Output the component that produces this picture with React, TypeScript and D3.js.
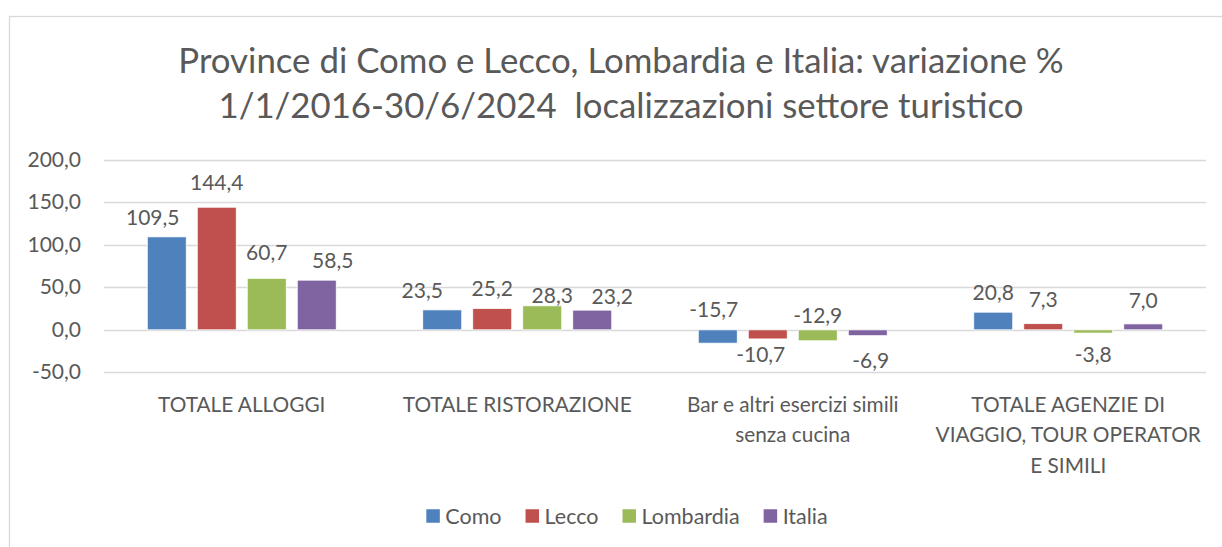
import React, { useEffect, useRef } from "react";
import * as d3 from "d3";

const categories: string[][] = [
  ["TOTALE ALLOGGI"],
  ["TOTALE RISTORAZIONE"],
  ["Bar e altri esercizi simili", "senza cucina"],
  ["TOTALE AGENZIE DI", "VIAGGIO, TOUR OPERATOR", "E SIMILI"],
];
const seriesNames = ["Como", "Lecco", "Lombardia", "Italia"];
const como = [109.5, 23.5, -15.7, 20.8];
const lecco = [144.4, 25.2, -10.7, 7.3];
const lombardia = [60.7, 28.3, -12.9, -3.8];
const italia = [58.5, 23.2, -6.9, 7.0];
const yTicks = [-50, 0, 50, 100, 150, 200];
const titleLines = [
  "Province di Como e Lecco, Lombardia e Italia: variazione %",
  "1/1/2016-30/6/2024\u00a0 localizzazioni settore turistico",
];

const colors = ["#4F81BD", "#C0504D", "#9BBB59", "#8064A2"];
// label nudges [dx, dy] per category (row) and series (column) – layout only
const labelNudge: [number, number][][] = [
  [[-14, 0], [0, -5], [0, -6], [16, 0]],
  [[-20, 0], [0, 0], [10, 9], [20, 6]],
  [[-4, -48], [-7, 1], [0, -40], [3, 10]],
  [[0, 0], [0, -5], [0, 7], [0, -4]],
];

const W = 1222;
const H = 547;
const FONT = "Lato, 'Open Sans', sans-serif";
const TXT = "#595959";
const GRID = "#D9D9D9";
const fmt = (v: number) => d3.format(".1f")(v).replace(".", ",").replace("\u2212", "-");

export default function App() {
  const ref = useRef<SVGSVGElement>(null);
  useEffect(() => {
    const svg = d3.select(ref.current);
    svg.selectAll("*").remove();
    const values = [como, lecco, lombardia, italia];
    const rows = categories.map((c, i) => ({
      key: String(i),
      label: c,
      vals: values.map((s) => s[i]),
    }));

    const margin = { left: 104, right: 16, top: 160, bottom: 175 };
    const x0 = d3
      .scaleBand<string>()
      .domain(rows.map((r) => r.key))
      .range([margin.left, W - margin.right])
      .padding(0);
    const x1 = d3
      .scaleBand<string>()
      .domain(seriesNames)
      .range([0, x0.bandwidth()])
      .paddingInner(0.22)
      .paddingOuter(0.865);
    const y = d3.scaleLinear().domain([-50, 200]).range([372.3, 160]);

    // border
    svg
      .append("rect")
      .attr("x", 9.5)
      .attr("y", 16.5)
      .attr("width", W + 20)
      .attr("height", H + 20)
      .attr("fill", "#fff")
      .attr("stroke", GRID)
      .attr("stroke-width", 1.3);

    // title
    const t = svg
      .append("text")
      .attr("text-anchor", "middle")
      .attr("font-family", FONT)
      .attr("font-size", 34.8)
      .attr("fill", TXT);
    titleLines.forEach((l, i) => {
      t.append("tspan")
        .attr("x", 621)
        .attr("y", 72.5 + i * 45.5)
        .text(l);
    });

    // grid
    svg
      .append("g")
      .selectAll("line")
      .data(yTicks)
      .join("line")
      .attr("x1", margin.left)
      .attr("x2", W - margin.right)
      .attr("y1", (d) => Math.round(y(d)) + 0.5)
      .attr("y2", (d) => Math.round(y(d)) + 0.5)
      .attr("stroke", GRID)
      .attr("stroke-width", 1.3);

    // y tick labels
    svg
      .append("g")
      .selectAll("text")
      .data(yTicks)
      .join("text")
      .attr("x", 81)
      .attr("y", (d) => y(d) + 7)
      .attr("text-anchor", "end")
      .attr("font-family", FONT)
      .attr("font-size", 21)
      .attr("fill", TXT)
      .text((d) => fmt(d));

    // bars
    const g = svg
      .append("g")
      .selectAll("g")
      .data(rows)
      .join("g")
      .attr("transform", (r) => `translate(${x0(r.key)},0)`);
    g.selectAll("rect")
      .data((r) => r.vals.map((v, i) => ({ v, i })))
      .join("rect")
      .attr("x", (d) => x1(seriesNames[d.i])!)
      .attr("width", x1.bandwidth())
      .attr("y", (d) => y(Math.max(0, d.v)))
      .attr("height", (d) => Math.abs(y(d.v) - y(0)))
      .attr("fill", (d) => colors[d.i])
      .attr("stroke", "#ffffff")
      .attr("stroke-width", 0.8);

    // data labels
    g.selectAll("text.lbl")
      .data((r, ri) => r.vals.map((v, i) => ({ v, i, ri })))
      .join("text")
      .attr("class", "lbl")
      .attr("text-anchor", "middle")
      .attr("font-family", FONT)
      .attr("font-size", 21)
      .attr("fill", TXT)
      .attr(
        "x",
        (d) => x1(seriesNames[d.i])! + x1.bandwidth() / 2 + labelNudge[d.ri][d.i][0]
      )
      .attr("y", (d) =>
        (d.v >= 0 ? y(d.v) - 12 : y(d.v) + 22) + labelNudge[d.ri][d.i][1]
      )
      .text((d) => fmt(d.v));

    // category labels
    const cl = svg
      .append("g")
      .selectAll("text")
      .data(rows)
      .join("text")
      .attr("text-anchor", "middle")
      .attr("font-family", FONT)
      .attr("font-size", 20.8)
      .attr("fill", TXT);
    cl.selectAll("tspan")
      .data((r) => r.label.map((l) => ({ l, key: r.key })))
      .join("tspan")
      .attr("x", (d) => x0(d.key)! + x0.bandwidth() / 2)
      .attr("y", (d, i) => 411.5 + i * 30.8)
      .text((d) => d.l);

    // legend
    const lg = svg.append("g");
    let cx = 0;
    const sw = 13.5;
    seriesNames.forEach((n, i) => {
      const item = lg.append("g").attr("transform", `translate(${cx},0)`);
      item
        .append("rect")
        .attr("x", 0)
        .attr("y", -sw / 2)
        .attr("width", sw)
        .attr("height", sw)
        .attr("fill", colors[i]);
      const tx = item
        .append("text")
        .attr("x", sw + 5.5)
        .attr("y", 7.5)
        .attr("font-family", FONT)
        .attr("font-size", 21.5)
        .attr("fill", TXT)
        .text(n);
      const tw = (tx.node() as SVGTextElement).getComputedTextLength();
      cx += sw + 5.5 + tw + 24;
    });
    const total = cx - 24;
    lg.attr("transform", `translate(${627 - total / 2},516)`);
  }, []);

  return (
    <svg
      ref={ref}
      width={W}
      height={H}
      style={{ position: "absolute", left: 0, top: 0, background: "#fff" }}
    />
  );
}
